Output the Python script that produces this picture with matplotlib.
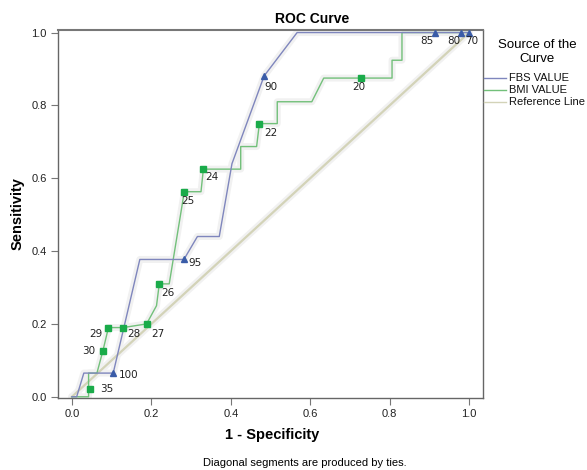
import matplotlib
matplotlib.use("Agg")
import matplotlib.pyplot as plt
from matplotlib.lines import Line2D

# ---- data ----
fbs_x = [0.0, 0.012, 0.030, 0.104, 0.171, 0.282, 0.316, 0.371, 0.403, 0.484, 0.567, 1.0]
fbs_y = [0.0, 0.0, 0.065, 0.065, 0.377, 0.377, 0.440, 0.440, 0.640, 0.881, 1.0, 1.0]

bmi_x = [0.0, 0.042, 0.042, 0.063, 0.078, 0.092, 0.129, 0.188, 0.213, 0.220, 0.245, 0.283,
         0.325, 0.331, 0.425, 0.425, 0.465, 0.472, 0.517, 0.517, 0.604, 0.634, 0.806,
         0.806, 0.831, 0.831, 1.0]
bmi_y = [0.0, 0.0, 0.065, 0.065, 0.126, 0.190, 0.190, 0.200, 0.250, 0.310, 0.310, 0.563,
         0.563, 0.625, 0.625, 0.687, 0.687, 0.750, 0.750, 0.810, 0.810, 0.875, 0.875,
         0.924, 0.924, 1.0, 1.0]

ref_x = [0.0, 1.0]
ref_y = [0.0, 1.0]

fbs_mark_x = [0.104, 0.282, 0.484, 0.915, 0.979, 1.0]
fbs_mark_y = [0.065, 0.377, 0.881, 1.0, 1.0, 1.0]
fbs_labels = ["100", "95", "90", "85", "80", "70"]

bmi_mark_x = [0.045, 0.078, 0.092, 0.129, 0.188, 0.220, 0.283, 0.331, 0.472, 0.728]
bmi_mark_y = [0.022, 0.126, 0.190, 0.190, 0.200, 0.310, 0.563, 0.625, 0.750, 0.875]
bmi_labels = ["35", "30", "29", "28", "27", "26", "25", "24", "22", "20"]

x_ticks = [0.0, 0.2, 0.4, 0.6, 0.8, 1.0]
y_ticks = [0.0, 0.2, 0.4, 0.6, 0.8, 1.0]

legend_labels = ["FBS VALUE", "BMI VALUE", "Reference Line"]
legend_title = "Source of the\nCurve"

# label offsets (pixels, right / down)
fbs_offsets = [(15, 2), (11, 4), (7, 11), (-8, 8), (-7, 8), (3, 8)]
bmi_offsets = [(17, 0), (-14, 0), (-13, 6), (11, 6), (11, 10), (9, 9), (4, 9), (9, 8), (11, 9), (-2, 9)]

# ---- style ----
FBS_LINE = "#7f86bd"
FBS_MARK = "#3a5ca8"
BMI_LINE = "#72c07a"
BMI_MARK = "#1aab4a"
REF_LINE = "#d3d3b8"
HALO = "#f1f1f1"
SANS = ["Liberation Sans", "DejaVu Sans"]

W, H = 587, 470
DPI = 100
fig = plt.figure(figsize=(W / DPI, H / DPI), dpi=DPI)
ax = fig.add_axes([58 / W, 1 - 397.5 / H, (483 - 58) / W, (397.5 - 30) / H])
px2pt = 72.0 / DPI

# halos (light grey fuzz around the lines)
for xs, ys in [(fbs_x, fbs_y), (bmi_x, bmi_y), (ref_x, ref_y)]:
    ax.plot(xs, ys, color=HALO, lw=5, solid_capstyle="round", zorder=1)

ax.plot(ref_x, ref_y, color=REF_LINE, lw=1.6, zorder=2)
ax.plot(bmi_x, bmi_y, color=BMI_LINE, lw=1.0, zorder=3)
ax.plot(fbs_x, fbs_y, color=FBS_LINE, lw=1.0, zorder=4)

ax.plot(bmi_mark_x, bmi_mark_y, ls="none", marker="s", ms=5, color=BMI_MARK, mec=BMI_MARK, zorder=5, clip_on=False)
ax.plot(fbs_mark_x, fbs_mark_y, ls="none", marker="^", ms=5, color=FBS_MARK, mec=FBS_MARK, zorder=5, clip_on=False)

for x, y, t, (dx, dy) in zip(fbs_mark_x, fbs_mark_y, fbs_labels, fbs_offsets):
    ax.annotate(t, (x, y), xytext=(dx * px2pt, -dy * px2pt), textcoords="offset points",
                ha="center", va="center", fontsize=7.5, family="DejaVu Sans", color="#222222",
                annotation_clip=False, zorder=6)
for x, y, t, (dx, dy) in zip(bmi_mark_x, bmi_mark_y, bmi_labels, bmi_offsets):
    ax.annotate(t, (x, y), xytext=(dx * px2pt, -dy * px2pt), textcoords="offset points",
                ha="center", va="center", fontsize=7.5, family="DejaVu Sans", color="#222222",
                annotation_clip=False, zorder=6)

ax.set_xlim(-0.035, 1.035)
ax.set_ylim(-0.002, 1.007)
ax.set_xticks(x_ticks)
ax.set_yticks(y_ticks)
ax.set_xticklabels([f"{v:.1f}" for v in x_ticks], family=SANS, fontsize=8, color="#222222")
ax.set_yticklabels([f"{v:.1f}" for v in y_ticks], family=SANS, fontsize=8, color="#222222")
ax.tick_params(direction="out", length=5, width=0.8, color="#777777", pad=3)
for s in ax.spines.values():
    s.set_color("#666666")
    s.set_linewidth(1.0)
ax.spines["top"].set_linewidth(1.5)
ax.spines["top"].set_color("#777777")

ax.set_xlabel("1 - Specificity", family=SANS, fontsize=10.5, fontweight="bold")
ax.xaxis.set_label_coords(0.503, -0.083)
ax.set_ylabel("Sensitivity", family=SANS, fontsize=10.5, fontweight="bold")
ax.yaxis.set_label_coords(-0.078, 0.5)

fig.text(312 / W, 1 - 19 / H, "ROC Curve", family=SANS, fontsize=10, fontweight="bold",
         ha="center", va="center")
fig.text(305 / W, 1 - 463 / H, "Diagonal segments are produced by ties.", family=SANS,
         fontsize=8, ha="center", va="center")

# legend (placed by hand)
fig.text(537 / W, 1 - 52 / H, legend_title, family=SANS, fontsize=9.5, ha="center",
         va="center", multialignment="center", linespacing=1.2)
legend_colors = [FBS_LINE, BMI_LINE, REF_LINE]
legend_y = [78, 90, 102]
for lab, col, yy in zip(legend_labels, legend_colors, legend_y):
    fig.add_artist(Line2D([484 / W, 506 / W], [1 - yy / H, 1 - yy / H], color=col, lw=1.0,
                          transform=fig.transFigure))
    fig.text(509 / W, 1 - yy / H, lab, family=SANS, fontsize=8, ha="left", va="center",
             color="#111111")

fig.savefig("out.png", dpi=DPI)
